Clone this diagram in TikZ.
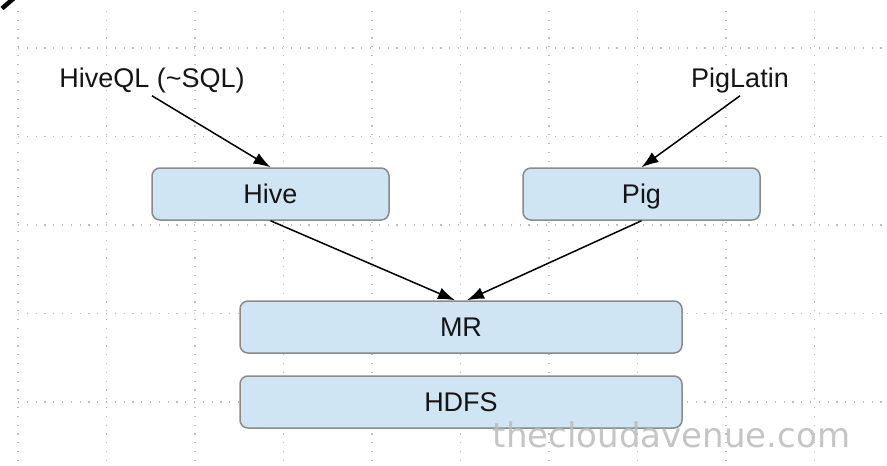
\documentclass[tikz,border=0pt]{standalone}
\usepackage{fontspec}
\setmainfont{Liberation Sans}
\newfontfamily\wmfont{DejaVu Sans}
\usetikzlibrary{arrows.meta}
\definecolor{boxfill}{HTML}{CFE5F3}
\definecolor{boxline}{HTML}{8A8A8A}
\definecolor{gridc}{HTML}{BDBDBD}
\definecolor{wmc}{HTML}{BBBBBB}
\definecolor{txt}{HTML}{151515}
\begin{document}
\begin{tikzpicture}[x=1pt,y=-1pt,
 blockbox/.style={draw=boxline, line width=1.5pt, fill=boxfill, rounded corners=8pt, minimum height=52pt, inner sep=0pt, text height=19.4pt, text depth=0pt, font=\fontsize{27}{30}\selectfont, text=txt},
 srclabel/.style={font=\fontsize{27}{30}\selectfont, text=txt, inner sep=3pt, anchor=base},
 flow/.style={line width=1.5pt, -{Latex[length=17pt,width=12pt]}},
 gridline/.style={gridc, line width=1.2pt, dash pattern=on 1.2pt off 7.6pt}]
\useasboundingbox (0,0) rectangle (887,466);
\fill[white] (0,0) rectangle (887,466);
\foreach \i in {0,...,9} \draw[gridline] ({18+88.5*\i},11) -- ({18+88.5*\i},466);
\foreach \j in {0,...,4} \draw[gridline] (18,{48+88.5*\j}) -- (887,{48+88.5*\j});
\draw[line width=4.5pt] (2,8.5) -- (13.5,-1.5);
\node[srclabel] (hiveql) at (152,87) {HiveQL (\textasciitilde SQL)};
\node[srclabel] (piglatin) at (740,87) {PigLatin};
\node[blockbox, minimum width=237pt] (hive) at (270.5,194) {Hive};
\node[blockbox, minimum width=237pt] (pig) at (641.5,194) {Pig};
\node[blockbox, minimum width=442pt] (mr) at (461,327) {MR};
\node[blockbox, minimum width=442pt] (hdfs) at (461,402) {HDFS};
\draw[flow] (hiveql.south) -- (hive.north);
\draw[flow] (piglatin.south) -- (pig.north);
\draw[flow] (hive.south) -- ([xshift=-6pt]mr.north);
\draw[flow] (pig.south) -- ([xshift=6pt]mr.north);
\node[font=\wmfont\fontsize{34}{40}\selectfont, text=wmc, anchor=base, inner sep=0pt, opacity=0.85] (wm) at (671.5,447) {thecloudavenue.com};
\end{tikzpicture}
\end{document}
